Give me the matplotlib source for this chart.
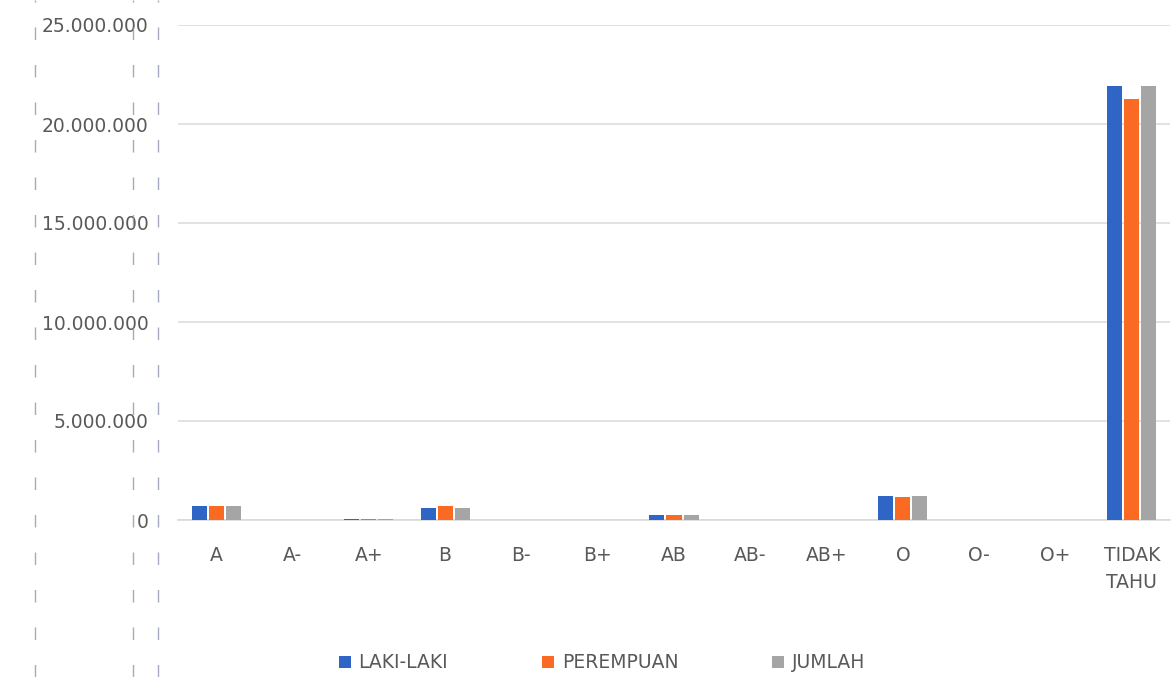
import matplotlib
matplotlib.use("Agg")
import matplotlib.pyplot as plt
from matplotlib.lines import Line2D
from matplotlib.ticker import FuncFormatter
import numpy as np

categories = ["A", "A-", "A+", "B", "B-", "B+", "AB", "AB-", "AB+", "O", "O-", "O+", "TIDAK\nTAHU"]
laki = [700000, 0, 50000, 600000, 0, 0, 250000, 0, 0, 1200000, 0, 0, 21900000]
perempuan = [700000, 0, 50000, 700000, 0, 0, 250000, 0, 0, 1150000, 0, 0, 21250000]
jumlah = [700000, 0, 50000, 600000, 0, 0, 250000, 0, 0, 1200000, 0, 0, 21900000]
series_names = ["LAKI-LAKI", "PEREMPUAN", "JUMLAH"]
colors = ["#2F65C5", "#FA6A22", "#A5A5A5"]
yticks = [0, 5000000, 10000000, 15000000, 20000000, 25000000]

plt.rcParams['font.family'] = ['DejaVu Sans']

fig = plt.figure(figsize=(11.74, 6.77), dpi=100)
ax = fig.add_axes([178/1174, 1 - 520/677, (1170-178)/1174, (520-25)/677])

x = np.arange(len(categories))
w = 0.197
step = 0.223
for i, (vals, name, c) in enumerate(zip([laki, perempuan, jumlah], series_names, colors)):
    ax.bar(x + (i - 1) * step, vals, width=w, color=c, label=name, zorder=3)

ax.set_xlim(-0.5, len(categories) - 0.5)
ax.set_ylim(0, 25000000)
ax.set_yticks(yticks)
ax.yaxis.set_major_formatter(FuncFormatter(lambda v, p: f"{int(v):,}".replace(",", ".")))
ax.set_xticks(x)
ax.set_xticklabels(categories, linespacing=1.5)
ax.grid(axis='y', color='#DDDDDD', linewidth=1.2, zorder=0)
for s in ['top', 'right', 'left']:
    ax.spines[s].set_visible(False)
ax.spines['bottom'].set_color('#D9D9D9')
ax.spines['bottom'].set_linewidth(1.2)
ax.tick_params(axis='both', length=0, labelsize=13.5, colors='#595959')
ax.tick_params(axis='y', pad=21)
ax.tick_params(axis='x', pad=19)

leg = fig.legend(loc='center', bbox_to_anchor=(602/1174, 1 - 663/677), ncol=3, frameon=False,
                 fontsize=13.5, handlelength=0.65, handleheight=0.65, columnspacing=5.0, handletextpad=0.4)
for t in leg.get_texts():
    t.set_color('#595959')

for xp in [35, 133, 158]:
    fig.add_artist(Line2D([xp/1174, xp/1174], [0, 1], transform=fig.transFigure,
                          color='#8E95B0', linewidth=1.0, dashes=(9, 18), alpha=0.8))

fig.savefig("out.png", dpi=100)
